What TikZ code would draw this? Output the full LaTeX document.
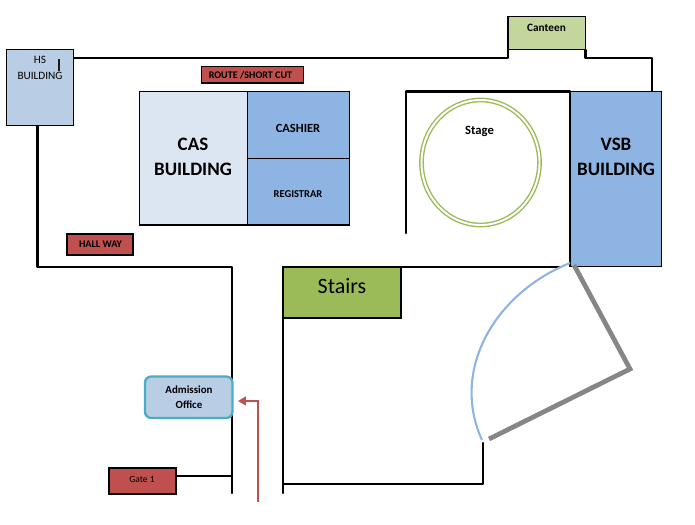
\documentclass[tikz,border=0pt]{standalone}
\usepackage{fontspec}
\setmainfont{Carlito}
\usetikzlibrary{arrows.meta}
\definecolor{routered}{HTML}{C0504D}
\definecolor{paleblue}{HTML}{DCE6F2}
\definecolor{midblue}{HTML}{8EB4E3}
\definecolor{hsblue}{HTML}{B9CDE5}
\definecolor{stagegreen}{HTML}{9BBB59}
\definecolor{canteengreen}{HTML}{C3D69B}
\definecolor{officeteal}{HTML}{4BACC6}
\definecolor{doorgray}{HTML}{868686}
\tikzset{
	wall/.style={line width=1.4pt, line cap=round, line join=round},
	block/.style={draw, line width=0.6pt, inner sep=0pt, outer sep=0pt, anchor=north west},
	redtag/.style={draw, fill=routered, inner sep=0pt, outer sep=0pt, anchor=north west},
	tagtext/.style={font=\fontsize{#1}{#1}\selectfont\bfseries, align=center, inner sep=0pt},
	plaintext/.style={font=\fontsize{#1}{#1}\selectfont, align=center, inner sep=0pt},
}
\begin{document}
\begin{tikzpicture}[x=0.02cm, y=-0.02cm]
	%%%%% START %%%%%
	\useasboundingbox (0, 0) rectangle (695, 524);

	% outer walls
	\draw[wall] (73.5, 58) -- (508, 58) -- (508, 50);
	\draw[wall] (585.5, 50) -- (585.5, 58) -- (652, 58) -- (652, 91);
	\draw[wall] (37.5, 125.5) -- (37.5, 267) -- (232, 267) -- (232, 493);
	\draw[wall] (406, 233) -- (406, 91.5) -- (570, 91.5);
	\draw[wall] (283, 493) -- (283, 267) -- (561, 267);
	\draw[wall] (483, 443) -- (483, 484) -- (283, 484);

	% buildings
	\node[block, fill=hsblue, minimum width=1.34cm, minimum height=1.52cm] (hs) at (6.5, 49.5) {};
	\node[plaintext=6.4] (hslabel) at (40, 68) {HS\\[3pt]BUILDING};
	\draw[line width=1.1pt, color=black!80!brown] (59, 59) -- (59, 71);
	\node[block, fill=canteengreen, minimum width=1.55cm, minimum height=0.66cm] (canteen) at (508, 16.5) {};
	\node[tagtext=6.4] (canteenlabel) at (546.5, 27.5) {Canteen};
	\node[block, fill=paleblue, minimum width=2.16cm, minimum height=2.67cm] (cas) at (139.5, 91.5) {};
	\node[tagtext=10.8] (caslabel) at (193, 157) {CAS\\[3.6pt]BUILDING};
	\node[block, fill=midblue, minimum width=2.04cm, minimum height=1.34cm] (cashier) at (247.5, 91.5) {};
	\node[tagtext=7.1] (cashierlabel) at (298, 128) {CASHIER};
	\node[block, fill=midblue, minimum width=2.04cm, minimum height=1.33cm] (registrar) at (247.5, 158.5) {};
	\node[tagtext=6] (registrarlabel) at (298, 194) {REGISTRAR};
	\node[block, fill=midblue, minimum width=1.83cm, minimum height=3.51cm] (vsb) at (570, 91.5) {};
	\node[tagtext=10.8] (vsblabel) at (616, 157) {VSB\\[3.6pt]BUILDING};

	% stage
	\draw[stagegreen, line width=0.8pt, double=white, double distance=1.1pt] (480.5, 162.5) ellipse (59 and 62.5);
	\node[tagtext=7.2] (stagelabel) at (479.5, 131) {Stage};
	\node[draw, line width=1.4pt, fill=stagegreen, inner sep=0pt, outer sep=0pt, anchor=north west, minimum width=2.36cm, minimum height=1.02cm] (stairs) at (283, 267) {};
	\node[plaintext=12.5] (stairslabel) at (342, 286) {Stairs};

	% labels
	\node[redtag, line width=0.6pt, minimum width=2.04cm, minimum height=0.33cm] (route) at (201.5, 66.5) {};
	\node[tagtext=5.75] (routelabel) at (250.5, 75.5) {ROUTE /SHORT CUT};
	\node[redtag, line width=1.4pt, minimum width=1.32cm, minimum height=0.42cm] (hallway) at (67, 234) {};
	\node[tagtext=5.8] (hallwaylabel) at (100.5, 244) {HALL WAY};
	\node[redtag, line width=1.1pt, minimum width=1.34cm, minimum height=0.52cm] (gate) at (109, 468) {};
	\node[plaintext=5.4] (gatelabel) at (142, 479) {Gate 1};
	\coordinate (gatewall) at (232, 476);
	\draw[line width=1.1pt] (gate.east |- gatewall) -- (gatewall);

	% admission office and way in
	\node[draw=officeteal, fill=hsblue, line width=1.3pt, rounded corners=3.5pt, inner sep=0pt, outer sep=0pt, anchor=north west, minimum width=1.75cm, minimum height=0.83cm] (office) at (145, 376.5) {};
	\node[tagtext=6.2] (officelabel) at (189, 397.5) {Admission\\[2.4pt]Office};
	\coordinate (walkin) at (258, 502);
	\coordinate (walkturn) at (258, 401);
	\coordinate (walkend) at (238, 401);
	\draw[routered, line width=1.4pt, -{Triangle[length=4.5pt, width=5pt]}] (walkin) -- (walkturn) -- (walkend);

	% door
	\draw[doorgray, line width=2.7pt] (574, 265) -- (630, 369) -- (489, 439);
	\draw[midblue, line width=1.2pt] (570, 263) .. controls (495, 293) and (450, 370) .. (482, 440);
	%%%%% END %%%%%
\end{tikzpicture}
\end{document}
